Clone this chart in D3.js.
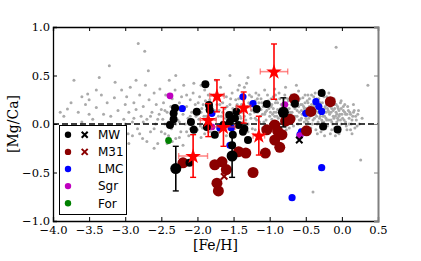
<!DOCTYPE html>
<html>
<head>
<meta charset="utf-8">
<script src="https://cdn.jsdelivr.net/npm/d3@7"></script>
<style>body{margin:0;background:#fff}</style>
</head>
<body>
<svg id="chart" width="421" height="261"></svg>
<script>
// [Fe/H], [Mg/Ca]
var xTicks = [-4.0, -3.5, -3.0, -2.5, -2.0, -1.5, -1.0, -0.5, 0.0, 0.5];
var yTicks = [-1.0, -0.5, 0.0, 0.5, 1.0];

var field = [
  [-3.85,0.08],[-3.8,0.155],[-3.71,0.45],[-3.65,0.12],[-3.6,0.02],[-3.55,0.2],[-3.52,0.31],[-3.5,0.25],[-3.45,0.05],[-3.4,0.17],
  [-3.36,0.48],[-3.33,0.3],[-3.3,0.1],[-3.25,0.22],[-3.22,0.6],[-3.2,-0.02],[-3.15,0.27],[-3.14,0.43],[-3.1,0.14],[-3.05,0.35],
  [-3.02,0.05],[-3.0,0.2],[-2.98,0.28],[-2.96,-0.1],[-2.95,0.12],[-2.93,0.38],[-2.9,0.02],[-2.88,0.22],[-2.85,0.15],[-2.83,-0.05],
  [-2.82,0.83],[-2.8,0.3],[-2.78,0.08],[-2.76,-0.15],[-2.75,0.18],[-2.73,0.75],[-2.72,0.4],[-2.7,0.05],[-2.68,0.55],[-2.67,0.25],
  [-2.65,-0.08],[-2.63,0.12],[-2.6,0.32],[-2.58,0.0],[-2.57,0.2],[-2.55,-0.2],[-2.53,0.1],[-2.52,0.36],[-2.5,0.15],[-2.9,-0.12],
  [-2.7,-0.18],[-2.6,-0.25],[-2.85,0.45],[-2.48,0.05],[-2.47,0.22],[-2.45,-0.1],[-2.44,0.3],[-2.42,0.12],[-2.4,0.02],[-2.39,0.45],
  [-2.37,0.18],[-2.36,-0.05],[-2.35,0.26],[-2.33,0.08],[-2.31,0.35],[-2.3,-0.15],[-2.28,0.15],[-2.27,0.04],[-2.25,0.22],[-2.23,-0.08],
  [-2.22,0.28],[-2.2,0.1],[-2.19,0.4],[-2.17,0.0],[-2.15,0.18],[-2.13,0.06],[-2.12,-0.12],[-2.1,0.25],[-2.08,0.12],[-2.06,0.32],
  [-2.05,-0.02],[-2.03,0.2],[-2.02,0.08],[-2.0,0.15],[-2.45,0.14],[-2.35,0.1],[-2.25,0.02],[-2.15,0.3],[-2.1,-0.05],[-2.42,-0.2],
  [-2.2,-0.22],[-2.3,0.5],[-2.05,0.42],[-1.98,0.05],[-1.97,0.28],[-1.95,0.12],[-1.93,-0.04],[-1.92,0.2],[-1.9,0.35],[-1.88,0.08],
  [-1.87,0.15],[-1.85,0.02],[-1.83,0.25],[-1.82,-0.08],[-1.8,0.18],[-1.78,0.1],[-1.77,0.3],[-1.75,0.05],[-1.73,0.2],[-1.72,-0.02],
  [-1.7,0.14],[-1.68,0.38],[-1.67,0.08],[-1.65,0.22],[-1.63,0.0],[-1.62,0.16],[-1.6,0.28],[-1.58,0.1],[-1.57,-0.05],[-1.55,0.2],
  [-1.53,0.12],[-1.52,0.32],[-1.5,0.04],[-1.95,0.4],[-1.9,-0.1],[-1.85,0.3],[-1.75,0.45],[-1.65,0.12],[-1.6,-0.12],[-1.55,0.5],
  [-1.48,0.15],[-1.47,0.25],[-1.45,0.05],[-1.44,0.35],[-1.42,0.12],[-1.4,-0.02],[-1.39,0.2],[-1.37,0.3],[-1.35,0.08],[-1.34,0.15],
  [-1.32,0.42],[-1.3,0.0],[-1.29,0.22],[-1.27,0.1],[-1.25,0.28],[-1.24,-0.05],[-1.22,0.18],[-1.2,0.06],[-1.19,0.32],[-1.17,0.12],
  [-1.15,0.22],[-1.14,0.02],[-1.12,0.26],[-1.1,0.1],[-1.09,0.18],[-1.07,0.35],[-1.05,0.04],[-1.04,0.14],[-1.02,0.24],[-1.0,0.08],
  [-1.45,0.2],[-1.35,0.38],[-1.25,0.14],[-1.2,0.24],[-1.15,0.3],[-1.1,-0.04],[-1.05,0.2],[-1.3,0.48],[-1.42,0.4],[-1.12,0.15],
  [-0.98,0.18],[-0.97,0.05],[-0.95,0.28],[-0.94,0.12],[-0.92,0.22],[-0.9,0.0],[-0.89,0.15],[-0.87,0.32],[-0.85,0.08],[-0.84,0.2],
  [-0.82,0.1],[-0.8,0.26],[-0.79,-0.02],[-0.77,0.16],[-0.75,0.06],[-0.74,0.24],[-0.72,0.12],[-0.7,0.3],[-0.69,0.02],[-0.67,0.18],
  [-0.65,0.08],[-0.64,0.22],[-0.62,0.14],[-0.6,0.34],[-0.59,0.04],[-0.57,0.2],[-0.55,0.1],[-0.54,0.27],[-0.52,0.16],[-0.5,0.06],
  [-0.96,0.1],[-0.91,0.25],[-0.86,0.14],[-0.81,0.04],[-0.76,0.2],[-0.71,0.1],[-0.66,0.28],[-0.61,0.0],[-0.56,0.14],[-0.51,0.22],
  [-0.93,0.36],[-0.78,0.38],[-0.63,0.4],[-0.88,-0.06],[-0.73,-0.04],[-0.58,-0.06],[-0.49,0.12],[-0.48,0.24],[-0.47,0.02],[-0.45,0.18],
  [-0.44,0.08],[-0.42,0.3],[-0.41,0.14],[-0.4,0.04],[-0.38,0.2],[-0.37,0.1],[-0.35,0.26],[-0.34,0.0],[-0.32,0.16],[-0.31,0.06],
  [-0.3,0.22],[-0.28,0.12],[-0.27,0.02],[-0.25,0.28],[-0.24,0.16],[-0.22,0.06],[-0.21,0.2],[-0.2,-0.02],[-0.18,0.12],[-0.17,0.24],
  [-0.15,0.04],[-0.14,0.16],[-0.12,0.08],[-0.11,0.2],[-0.1,-0.04],[-0.08,0.12],[-0.07,0.02],[-0.05,0.16],[-0.04,0.08],[-0.02,0.22],
  [-0.01,0.0],[0.0,0.1],[-0.46,0.1],[-0.39,0.28],[-0.33,0.12],[-0.26,0.08],[-0.19,0.14],[-0.13,0.0],[-0.06,0.06],[-0.43,-0.04],
  [-0.36,-0.06],[-0.29,-0.08],[-0.23,-0.05],[-0.16,-0.1],[-0.09,-0.12],[-0.03,-0.08],[-0.08,0.79],[-0.4,-0.7],[-0.27,0.35],[-0.18,0.32],
  [0.02,0.14],[0.03,0.04],[0.05,0.1],[0.06,-0.02],[0.08,0.18],[0.1,0.06],[0.11,0.12],[0.13,0.0],[0.15,0.08],[0.17,0.14],
  [0.18,-0.04],[0.2,0.04],[0.22,0.1],[0.24,0.0],[0.26,-0.37],[0.36,0.4],[0.12,-0.06],[0.04,0.2],[0.28,0.06],[0.16,0.2]
];
// the packed part of the field cloud
var fieldDense = [
  [-1.99,0.22],[-1.96,-0.02],[-1.94,0.16],[-1.91,0.08],[-1.89,0.24],[-1.86,0.04],[-1.84,0.12],[-1.81,0.3],[-1.79,-0.02],[-1.76,0.14],
  [-1.74,0.26],[-1.71,0.08],[-1.69,0.2],[-1.66,0.02],[-1.64,0.3],[-1.61,0.06],[-1.59,0.18],[-1.56,0.1],[-1.54,0.26],[-1.51,0.16],
  [-1.49,0.06],[-1.46,0.18],[-1.43,0.26],[-1.41,0.08],[-1.38,0.12],[-1.36,0.24],[-1.33,0.04],[-1.31,0.18],[-1.28,0.3],[-1.26,0.06],
  [-1.23,0.2],[-1.21,0.12],[-1.18,0.04],[-1.16,0.16],[-1.13,0.08],[-1.11,0.22],[-1.08,0.02],[-1.06,0.12],[-1.03,0.3],[-1.01,0.16],
  [-1.47,0.1],[-1.37,0.02],[-1.27,0.2],[-1.17,0.26],[-1.07,0.1],
  [-0.99,0.12],[-0.98,0.26],[-0.96,0.02],[-0.95,0.16],[-0.93,0.08],[-0.92,0.3],[-0.91,0.12],[-0.89,0.22],[-0.88,0.06],[-0.86,0.26],
  [-0.85,0.16],[-0.83,0.02],[-0.82,0.18],[-0.8,0.1],[-0.79,0.3],[-0.78,0.08],[-0.76,0.12],[-0.75,0.26],[-0.73,0.16],[-0.72,0.04],
  [-0.7,0.2],[-0.69,0.12],[-0.68,0.26],[-0.66,0.06],[-0.65,0.16],[-0.63,0.28],[-0.62,0.08],[-0.6,0.18],[-0.59,0.12],[-0.58,0.26],
  [-0.56,0.06],[-0.55,0.2],[-0.53,0.12],[-0.52,0.02],[-0.51,0.3],[-0.97,0.2],[-0.87,0.0],[-0.77,-0.06],[-0.67,-0.02],[-0.57,0.04],
  [-0.9,0.08],[-0.8,0.18],[-0.7,0.06],[-0.6,0.24],[-0.53,0.18],
  [-0.5,0.16],[-0.49,0.04],[-0.48,0.14],[-0.47,0.22],[-0.46,0.06],[-0.45,0.26],[-0.44,0.14],[-0.43,0.1],[-0.42,0.2],[-0.41,0.0],
  [-0.4,0.12],[-0.39,0.18],[-0.38,0.06],[-0.37,0.24],[-0.36,0.14],[-0.35,0.08],[-0.34,0.18],[-0.33,0.02],[-0.32,0.26],[-0.31,0.12],
  [-0.3,0.08],[-0.29,0.18],[-0.28,0.04],[-0.27,0.22],[-0.26,0.14],[-0.25,0.02],[-0.24,0.08],[-0.23,0.18],[-0.22,0.12],[-0.21,0.04],
  [-0.2,0.16],[-0.19,0.24],[-0.18,0.04],[-0.17,0.1],[-0.16,0.18],[-0.15,0.12],[-0.14,0.02],[-0.13,0.22],[-0.12,0.14],[-0.11,0.06],
  [-0.1,0.16],[-0.09,0.08],[-0.08,0.2],[-0.07,0.1],[-0.06,0.18],[-0.05,0.04],[-0.04,0.14],[-0.03,0.1],[-0.02,0.04],[-0.01,0.16],
  [-0.44,-0.08],[-0.34,-0.1],[-0.24,-0.12],[-0.14,-0.06],[-0.04,-0.1],[-0.47,0.3],[-0.37,0.32],[-0.21,0.28],[-0.11,0.26],[-0.01,0.24],
  [0.01,0.06],[0.02,0.18],[0.04,0.12],[0.05,0.02],[0.07,0.1],[0.09,0.14],[0.1,0.0],[0.12,0.1],[0.14,0.04],[0.16,0.12],
  [0.19,0.08],[0.21,-0.02],[0.07,-0.06],[0.14,-0.1],[0.23,0.14],
  [-3.3,-0.05],[-3.2,0.08],[-3.1,-0.08],[-3.0,0.0],[-2.95,-0.2],[-2.88,0.06],[-2.8,-0.1],[-2.75,0.02],[-2.65,0.08],[-2.6,-0.05],
  [-2.55,0.05],[-2.5,-0.08],[-2.45,0.0],[-2.4,-0.12],[-2.35,-0.18],[-2.3,0.0],[-2.25,-0.14],[-2.15,-0.08],[-2.1,0.08],[-2.0,-0.06],
  [-1.95,-0.14],[-1.85,-0.08],[-1.7,-0.08],[-1.5,-0.08],[-1.4,0.06],[-1.3,-0.08],[-1.2,-0.06],[-1.0,-0.04],[-3.5,0.1],[-3.4,0.35],
  [-3.6,0.28],[-3.75,0.22],[-3.9,0.12]
];

var lmc = [
  [-2.21,0.16],[-1.37,0.28],[-1.23,0.21],[-1.80,0.11],[-1.69,-0.04],[-1.53,-0.04],[-1.55,-0.22],
  [-0.36,0.23],[-0.32,0.18],[-0.28,0.13],[-0.50,0.11],[-0.56,-0.08],[-0.58,-0.11],[-0.28,-0.45],[-0.69,-0.76]
];
var sgr = [[-2.38,0.29],[-0.79,0.20],[-1.80,-0.03],[-0.58,-0.12]];
var fornax = [[-2.40,-0.17]];

var m31 = [
  [-0.66,0.26],[-0.16,0.23],[-0.43,0.13],[-0.72,0.05],[-0.49,-0.07],[-0.83,-0.11],[-0.93,-0.165],[-0.86,-0.24],
  [-1.04,-0.06],[-0.93,-0.01],[-1.06,-0.30],[-1.33,-0.30],[-1.43,-0.285],[-1.66,-0.39],[-1.76,-0.42],[-1.60,-0.47],
  [-1.23,-0.50],[-1.73,-0.61],[-1.71,-0.69],[-2.20,-0.40],[-0.78,0.03],[-0.89,-0.07]
];
var m31Cross = [[-1.63,-0.54]];

var mw = [
  [-1.89,0.41],[-2.31,0.165],[-2.33,0.11],[-2.33,0.05],[-2.38,-0.01],[-2.01,0.127],[-2.09,0.02],[-1.84,0.196],
  [-2.05,-0.06],[-1.87,-0.03],[-1.83,0.144],[-1.04,0.206],[-1.18,0.155],[-1.46,0.127],[-1.56,0.093],[-1.48,0.06],
  [-1.55,0.024],[-1.64,-0.01],[-1.43,-0.01],[-1.35,-0.05],[-1.76,-0.11],[-1.51,-0.11],[-1.37,-0.08],[-1.30,-0.165],
  [-1.52,-0.22],[-2.11,-0.40],[-0.28,0.32],[-0.65,0.21],[-0.26,-0.026],[-0.06,-0.057]
];
// [Fe/H], [Mg/Ca], error
var mwErr = [[-2.30,-0.46,0.23],[-1.52,-0.33,0.22],[-0.81,0.12,0.15]];
var mwCross = [[-0.59,-0.165]];

// [Fe/H], [Mg/Ca], xerr, yerr
var m31Stars = [
  [-0.94,0.54,0.19,0.285],[-1.73,0.29,0.10,0.165],[-1.36,0.17,0.10,0.16],[-1.85,0.04,0.11,0.17],
  [-1.64,-0.03,0.16,0.20],[-1.15,-0.12,0.08,0.20],[-2.06,-0.33,0.20,0.22]
];

var legendItems = [
  {label: "MW", color: "#000000", cross: true},
  {label: "M31", color: "#8b0000", cross: true},
  {label: "LMC", color: "#0000ff", cross: false},
  {label: "Sgr", color: "#bf00bf", cross: false},
  {label: "For", color: "#008000", cross: false}
];

var svg = d3.select("#chart");
var pL = 53, pR = 378, pT = 27, pB = 221;
var x = d3.scaleLinear().domain([-4, 0.5]).range([pL, pR]);
var y = d3.scaleLinear().domain([-1, 1]).range([pB, pT]);

svg.append("defs").append("clipPath").attr("id", "clip")
  .append("rect").attr("x", pL).attr("y", pT).attr("width", pR - pL).attr("height", pB - pT);
var plot = svg.append("g").attr("clip-path", "url(#clip)");

function dots(data, color, r) {
  plot.append("g").selectAll("circle").data(data).enter().append("circle")
    .attr("cx", function(d){ return x(d[0]); })
    .attr("cy", function(d){ return y(d[1]); })
    .attr("r", r)
    .attr("fill", color);
}
function crosses(data, color) {
  plot.append("g").selectAll("path").data(data).enter().append("path")
    .attr("d", function(d){
      var cx = x(d[0]), cy = y(d[1]), s = 3.2;
      return "M" + (cx - s) + "," + (cy - s) + "L" + (cx + s) + "," + (cy + s) +
             "M" + (cx - s) + "," + (cy + s) + "L" + (cx + s) + "," + (cy - s);
    })
    .attr("stroke", color).attr("stroke-width", 2).attr("fill", "none");
}
function vbar(g, fx, fy, e, color, cap) {
  var cx = x(fx), y0 = y(fy - e), y1 = y(fy + e);
  g.append("line").attr("x1", cx).attr("x2", cx).attr("y1", y0).attr("y2", y1)
    .attr("stroke", color).attr("stroke-width", 1.6);
  [y0, y1].forEach(function(yy){
    g.append("line").attr("x1", cx - cap).attr("x2", cx + cap).attr("y1", yy).attr("y2", yy)
      .attr("stroke", color).attr("stroke-width", 1.4);
  });
}
function hbar(g, fx, fy, e, color, cap) {
  var cy = y(fy), x0 = x(fx - e), x1 = x(fx + e);
  g.append("line").attr("x1", x0).attr("x2", x1).attr("y1", cy).attr("y2", cy)
    .attr("stroke", color).attr("stroke-width", 1.6);
  [x0, x1].forEach(function(xx){
    g.append("line").attr("x1", xx).attr("x2", xx).attr("y1", cy - cap).attr("y2", cy + cap)
      .attr("stroke", color).attr("stroke-width", 1.4);
  });
}

// field stars
dots(field.concat(fieldDense), "#aaaaaa", 1.5);

// zero line
plot.append("line").attr("x1", pL).attr("x2", pR).attr("y1", y(0)).attr("y2", y(0))
  .attr("stroke", "#000").attr("stroke-width", 1.5).attr("stroke-dasharray", "6,3");

dots(lmc, "#0000ff", 3.6);
dots(sgr, "#bf00bf", 3.4);
dots(fornax, "#008000", 3.4);
dots(m31, "#8b0000", 5.5);
crosses(m31Cross, "#8b0000");

var eb = plot.append("g");
mwErr.forEach(function(d){ vbar(eb, d[0], d[1], d[2], "#000", 3); });
dots(mw, "#000000", 4);
dots(mwErr, "#000000", 5.5);
crosses(mwCross, "#000");

var sg = plot.append("g");
m31Stars.forEach(function(d){
  hbar(sg, d[0], d[1], d[2], "rgba(255,60,60,0.6)", 3);
  vbar(sg, d[0], d[1], d[3], "#ff0000", 3);
});
sg.selectAll("path.star").data(m31Stars).enter().append("path")
  .attr("class", "star")
  .attr("d", d3.symbol().type(d3.symbolStar).size(75))
  .attr("transform", function(d){ return "translate(" + x(d[0]) + "," + (y(d[1]) + 0.5) + ")"; })
  .attr("fill", "#ff0000");

// axes
var tickFont = "'DejaVu Serif', serif";
var fmt = function(d){ return d3.format(".1f")(d).replace("-", "\u2212"); };
var gx = svg.append("g").attr("transform", "translate(0," + pB + ")")
  .call(d3.axisBottom(x).tickValues(xTicks).tickSize(-4).tickPadding(5).tickFormat(fmt));
var gxt = svg.append("g").attr("transform", "translate(0," + pT + ")")
  .call(d3.axisTop(x).tickValues(xTicks).tickSize(-4).tickFormat(""));
var gy = svg.append("g").attr("transform", "translate(" + pL + ",0)")
  .call(d3.axisLeft(y).tickValues(yTicks).tickSize(-4).tickPadding(3).tickFormat(fmt));
var gyr = svg.append("g").attr("transform", "translate(" + pR + ",0)")
  .call(d3.axisRight(y).tickValues(yTicks).tickSize(-4).tickFormat(""));

[gx, gxt, gy].forEach(function(g){
  g.select(".domain").attr("stroke", "#000").attr("stroke-width", 1.3);
  g.selectAll(".tick line").attr("stroke", "#000");
  g.selectAll("text").attr("font-family", tickFont).attr("font-size", 11.5).attr("fill", "#000");
});
gyr.select(".domain").attr("stroke", "#808080").attr("stroke-width", 2);
gyr.selectAll(".tick line").attr("stroke", "#808080");

svg.append("text").attr("x", (pL + pR) / 2).attr("y", 250)
  .attr("text-anchor", "middle").attr("font-family", tickFont).attr("font-size", 14)
  .text("[Fe/H]");
svg.append("text").attr("transform", "translate(18," + ((pT + pB) / 2) + ") rotate(-90)")
  .attr("text-anchor", "middle").attr("font-family", tickFont).attr("font-size", 14)
  .text("[Mg/Ca]");

// legend
var lg = svg.append("g");
lg.append("rect").attr("x", 59.5).attr("y", 125.5).attr("width", 67).attr("height", 89)
  .attr("fill", "#fff").attr("stroke", "#000").attr("stroke-width", 1);
legendItems.forEach(function(it, i){
  var cy = 134.8 + i * 17.1;
  lg.append("circle").attr("cx", 68).attr("cy", cy).attr("r", 3.2).attr("fill", it.color);
  if (it.cross) {
    var cx = 84.7, s = 3;
    lg.append("path")
      .attr("d", "M" + (cx - s) + "," + (cy - s) + "L" + (cx + s) + "," + (cy + s) +
                 "M" + (cx - s) + "," + (cy + s) + "L" + (cx + s) + "," + (cy - s))
      .attr("stroke", it.color).attr("stroke-width", 2);
  }
  lg.append("text").attr("x", 98).attr("y", cy + 4.3)
    .attr("font-family", "'DejaVu Sans', sans-serif").attr("font-size", 12)
    .text(it.label);
});
</script>
</body>
</html>
